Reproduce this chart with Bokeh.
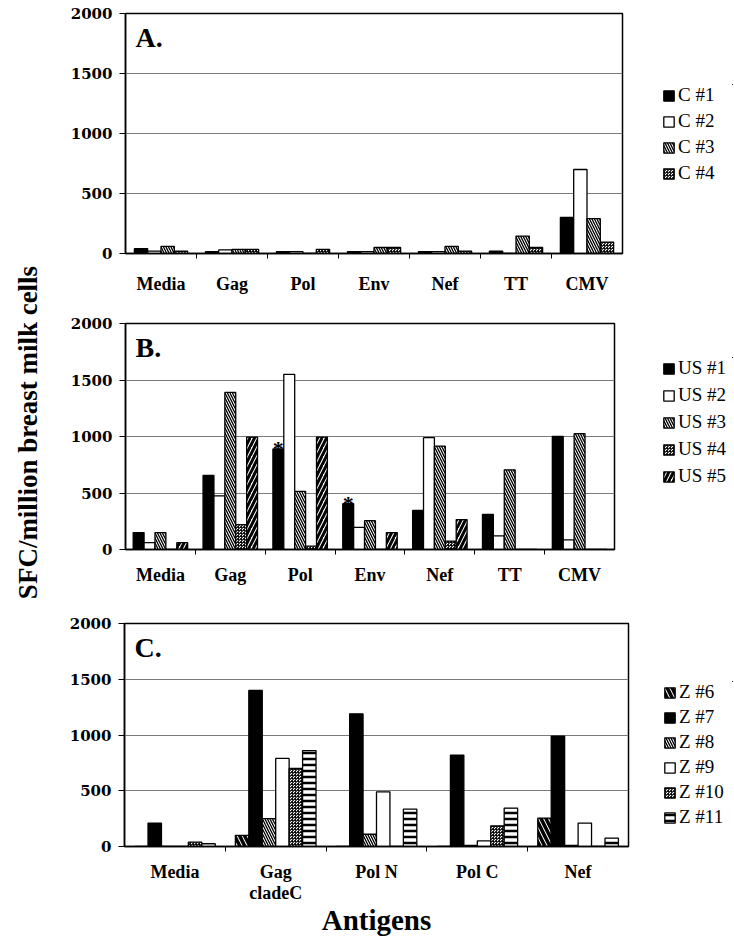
import math
from bokeh.plotting import figure
from bokeh.models import (Range1d, FixedTicker, Legend, LegendItem, Label, Spacer)
from bokeh.layouts import row, column
from bokeh.embed import file_html
from bokeh.resources import INLINE
from bokeh.core.properties import value

# ---------------- data ----------------
cats_a = ["Media", "Gag", "Pol", "Env", "Nef", "TT", "CMV"]
c1 = [40, 15, 15, 15, 15, 20, 300]
c2 = [20, 30, 15, 15, 15, 0, 700]
c3 = [60, 35, 0, 50, 60, 145, 290]
c4 = [20, 35, 35, 50, 20, 50, 95]
names_a = ["C #1", "C #2", "C #3", "C #4"]

cats_b = ["Media", "Gag", "Pol", "Env", "Nef", "TT", "CMV"]
us1 = [150, 655, 890, 405, 345, 310, 1000]
us2 = [60, 475, 1550, 195, 990, 120, 85]
us3 = [150, 1390, 515, 255, 915, 705, 1025]
us4 = [0, 220, 30, 0, 75, 0, 0]
us5 = [60, 995, 995, 150, 265, 0, 0]
us1_star = [False, False, True, True, False, False, False]
names_b = ["US #1", "US #2", "US #3", "US #4", "US #5"]

cats_c = ["Media", "Gag\ncladeC", "Pol N", "Pol C", "Nef"]
z6 = [0, 100, 0, 0, 255]
z7 = [210, 1400, 1190, 820, 990]
z8 = [0, 250, 110, 10, 10]
z9 = [0, 790, 490, 50, 210]
z10 = [40, 700, 0, 185, 0]
z11 = [25, 860, 335, 345, 75]
names_c = ["Z #6", "Z #7", "Z #8", "Z #9", "Z #10", "Z #11"]

y_ticks = [0, 500, 1000, 1500, 2000]
y_title = "SFC/million breast milk cells"
x_title = "Antigens"

# ---------------- styles ----------------
FONT = "Liberation Serif"
TICK_FONT = "DejaVu Serif"
SOLID = dict(fill_color="black")
WHITE = dict(fill_color="white")
DENSE_BS = dict(fill_color="white", hatch_pattern="left_diagonal_line",
                hatch_scale=5, hatch_weight=1.3, hatch_color="black")
CHECK = dict(fill_color="white", hatch_pattern="criss_cross",
             hatch_scale=3, hatch_weight=0.8, hatch_color="black")
WIDE_FS = dict(fill_color="white", hatch_pattern="right_diagonal_line",
               hatch_scale=9, hatch_weight=3, hatch_color="black")
WIDE_BS = dict(fill_color="white", hatch_pattern="left_diagonal_line",
               hatch_scale=10, hatch_weight=3.5, hatch_color="black")
HLINES = dict(fill_color="white", hatch_pattern="horizontal_line",
              hatch_scale=6, hatch_weight=2.5, hatch_color="black")

TITLE_W = 53
COL_W = 680


def make_panel(cats, series, names, styles, group, frame_w, frame_h,
               left, top, bottom, letter, leg_dx, leg_dy, label_standoff,
               legend_spacing):
    n_cat = len(cats)
    fig_h = top + frame_h + bottom
    main_w = left + frame_w + 2
    p = figure(width=main_w, height=fig_h,
               x_range=Range1d(0, n_cat), y_range=Range1d(0, 2000),
               min_border_left=left, min_border_right=2,
               min_border_top=top, min_border_bottom=bottom,
               toolbar_location=None, output_backend="svg")
    p.outline_line_color = "black"
    p.outline_line_width = 1.5
    p.background_fill_color = "white"
    p.border_fill_color = "white"

    # legend lives in a small companion figure; its bars are kept out of view
    n_items = len(series)
    leg_h = n_items * (22 + legend_spacing) - legend_spacing + 1
    leg_w = COL_W - main_w - leg_dx
    lg = figure(width=leg_w, height=leg_h,
                x_range=Range1d(-101, -100), y_range=Range1d(-5001, -5000),
                min_border=0, x_axis_location=None, y_axis_location=None,
                toolbar_location=None, output_backend="svg")
    lg.grid.visible = False
    lg.outline_line_color = None
    lg.border_fill_color = "white"

    n = len(series)
    items = []
    for j, (vals, name, st) in enumerate(zip(series, names, styles)):
        xs = [i + 0.5 - group / 2 + (j + 0.5) * group / n for i in range(n_cat)]
        p.vbar(x=xs, top=vals, bottom=0, width=group / n,
               line_color="black", line_width=1.3, **st)
        key = lg.vbar(x=xs, top=vals, bottom=0, width=group / n,
                      line_color="black", line_width=1.3, **st)
        items.append(LegendItem(label=name, renderers=[key]))

    # axes
    xa = p.xaxis[0]
    xa.ticker = FixedTicker(ticks=[i + 0.5 for i in range(n_cat)],
                            minor_ticks=list(range(1, n_cat)))
    xa.major_label_overrides = {i + 0.5: c for i, c in enumerate(cats)}
    xa.major_tick_out = 0
    xa.major_tick_in = 0
    xa.minor_tick_out = 5
    xa.minor_tick_in = 0
    xa.minor_tick_line_color = "black"
    xa.axis_line_color = "black"
    xa.axis_line_width = 1.5
    xa.major_label_text_font = FONT
    xa.major_label_text_font_style = "bold"
    xa.major_label_text_font_size = "18px"
    xa.major_label_text_line_height = 1.05
    xa.major_label_text_color = "black"
    xa.major_label_standoff = label_standoff

    ya = p.yaxis[0]
    ya.ticker = FixedTicker(ticks=y_ticks, minor_ticks=[])
    ya.major_tick_out = 6
    ya.major_tick_in = 0
    ya.major_tick_line_color = "black"
    ya.axis_line_color = "black"
    ya.axis_line_width = 1.5
    ya.major_label_text_font = TICK_FONT
    ya.major_label_text_font_style = "bold"
    ya.major_label_text_font_size = "15px"
    ya.major_label_text_color = "black"
    ya.major_label_standoff = 7

    p.xgrid.visible = False
    p.ygrid.ticker = FixedTicker(ticks=y_ticks[1:-1])
    p.ygrid.grid_line_color = "#7a7a7a"
    p.ygrid.grid_line_width = 1

    p.add_layout(Label(x=10, y=frame_h - 24, x_units="screen", y_units="screen",
                       text=letter, text_font=FONT, text_font_style="bold",
                       text_font_size="28px", text_baseline="alphabetic",
                       text_color="black"))

    leg = Legend(items=items, location="top_left",
                 label_text_font=FONT, label_text_font_size="19px",
                 label_text_color="black",
                 glyph_width=13, glyph_height=13, label_height=20,
                 label_standoff=3, spacing=legend_spacing, padding=0, margin=0,
                 border_line_color=None, background_fill_alpha=0,
                 inactive_fill_alpha=0)
    lg.add_layout(leg, "center")

    side = column(Spacer(width=leg_w, height=leg_dy), lg,
                  Spacer(width=leg_w, height=max(fig_h - leg_dy - leg_h, 0)))
    return row(p, Spacer(width=leg_dx, height=fig_h), side), p


rowA, pA = make_panel(cats_a, [c1, c2, c3, c4], names_a,
                      [SOLID, WHITE, DENSE_BS, CHECK], 0.75,
                      frame_w=497, frame_h=240, left=72, top=13, bottom=50,
                      letter="A.", leg_dx=38, leg_dy=84, label_standoff=15,
                      legend_spacing=4)

rowB, pB = make_panel(cats_b, [us1, us2, us3, us4, us5], names_b,
                      [SOLID, WHITE, DENSE_BS, CHECK, WIDE_FS], 0.78,
                      frame_w=489, frame_h=226, left=72, top=20, bottom=50,
                      letter="B.", leg_dx=46, leg_dy=54, label_standoff=10,
                      legend_spacing=5)
# asterisks on US #1 bars
n_b = 5
g_b = 0.78
star_x = [i + 0.5 - g_b / 2 + 0.5 * g_b / n_b for i in range(len(cats_b)) if us1_star[i]]
star_y = [us1[i] for i in range(len(cats_b)) if us1_star[i]]
pB.text(x=star_x, y=star_y, text=["*"] * len(star_x),
        text_font=value(FONT), text_font_style="bold", text_font_size="22px",
        text_align="center", text_baseline="middle", text_color="black",
        text_alpha=1.0)

rowC, pC = make_panel(cats_c, [z6, z7, z8, z9, z10, z11], names_c,
                      [WIDE_BS, SOLID, DENSE_BS, WHITE, CHECK, HLINES], 0.8,
                      frame_w=504, frame_h=223, left=71, top=24, bottom=93,
                      letter="C.", leg_dx=33, leg_dy=82, label_standoff=10,
                      legend_spacing=3)
pC.xaxis[0].axis_label = x_title
pC.xaxis[0].axis_label_text_font = FONT
pC.xaxis[0].axis_label_text_font_style = "bold"
pC.xaxis[0].axis_label_text_font_size = "29px"
pC.xaxis[0].axis_label_text_color = "black"
pC.xaxis[0].axis_label_standoff = -2

TOTAL_H = (13 + 240 + 50) + (20 + 226 + 50) + (24 + 223 + 93)
tfig = figure(width=TITLE_W, height=TOTAL_H, x_range=Range1d(0, TITLE_W),
              y_range=Range1d(0, TOTAL_H), min_border=0,
              x_axis_location=None, y_axis_location=None,
              toolbar_location=None, output_backend="svg")
tfig.grid.visible = False
tfig.outline_line_color = None
tfig.add_layout(Label(x=27, y=TOTAL_H - 432, text=y_title,
                      angle=math.pi / 2, text_font=FONT, text_font_style="bold",
                      text_font_size="27px", text_align="center",
                      text_baseline="middle", text_color="black"))

layout = row(tfig, column(rowA, rowB, rowC))
open("out.html", "w").write(file_html(layout, INLINE))
